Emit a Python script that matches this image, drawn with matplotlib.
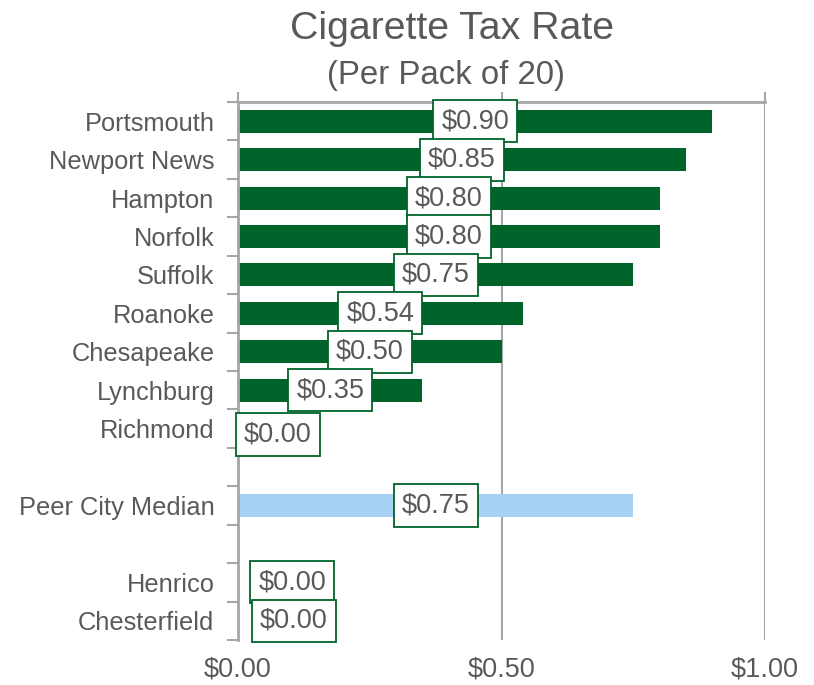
import matplotlib
matplotlib.use("Agg")
import matplotlib.pyplot as plt
import numpy as np

plt.rcParams['font.family'] = ['Liberation Sans', 'DejaVu Sans']

# rows top to bottom, blank strings are spacer rows
cities = ["Portsmouth", "Newport News", "Hampton", "Norfolk", "Suffolk",
          "Roanoke", "Chesapeake", "Lynchburg", "Richmond", "",
          "Peer City Median", "", "Henrico", "Chesterfield"]
rates = [0.90, 0.85, 0.80, 0.80, 0.75, 0.54, 0.50, 0.35, 0.00, None,
         0.75, None, 0.00, 0.00]
median_row = "Peer City Median"
ticks = [0.0, 0.5, 1.0]

green = "#006329"
light_blue = "#A7D2F3"
grey_text = "#595959"
axis_grey = "#A6A6A6"

# labels of zero bars were dragged off the axis
label_nudge = {"Richmond": (0.076, 0.15), "Henrico": (0.103, 0.0), "Chesterfield": (0.106, 0.0)}

fig = plt.figure(figsize=(8.14, 6.85), dpi=100)
ax = fig.add_axes([0.2924, 0.0657, 0.6474, 0.7854])

ypos = np.arange(len(cities))
for y, name, val in zip(ypos, cities, rates):
    if val is None:
        continue
    color = light_blue if name == median_row else green
    ax.barh(y, val, height=0.6, color=color, zorder=2)
    dx, dy = label_nudge.get(name, (0, 0))
    ax.text(val / 2 + dx, y + dy, f"${val:.2f}", ha="center", va="center",
            fontsize=19.5, color=grey_text, zorder=3,
            bbox=dict(boxstyle="square,pad=0.3", fc="white", ec=green, lw=1.3))

ax.set_xlim(0, 1.0)
ax.set_ylim(len(cities) - 0.5, -0.5)

# value axis drawn along the top, labels kept at the bottom
ax.set_xticks(ticks)
ax.set_xticklabels([f"${t:.2f}" for t in ticks])
ax.tick_params(axis="x", which="both", bottom=False, top=True, labelbottom=True,
               labeltop=False, length=7, width=1.5, color=axis_grey,
               labelsize=19.5, labelcolor=grey_text, pad=5, direction="out")
ax.xaxis.grid(True, color=axis_grey, lw=1.5, zorder=0)
ax.set_axisbelow(True)

ax.set_yticks(ypos)
ax.set_yticklabels(cities)
ax.set_yticks(np.arange(-0.5, len(cities)), minor=True)
ax.tick_params(axis="y", which="major", length=0, labelsize=18.3,
               labelcolor=grey_text, pad=17)
ax.tick_params(axis="y", which="minor", length=8, width=1.5, color=axis_grey)

for side in ["right", "bottom"]:
    ax.spines[side].set_visible(False)
for side in ["top", "left"]:
    ax.spines[side].set_color(axis_grey)
    ax.spines[side].set_linewidth(2)

fig.text(0.555, 0.943, "Cigarette Tax Rate", ha="center", va="baseline",
         fontsize=28.3, color=grey_text)
fig.text(0.548, 0.878, "(Per Pack of 20)", ha="center", va="baseline",
         fontsize=23.8, color=grey_text)

fig.savefig("out.png", dpi=100)
